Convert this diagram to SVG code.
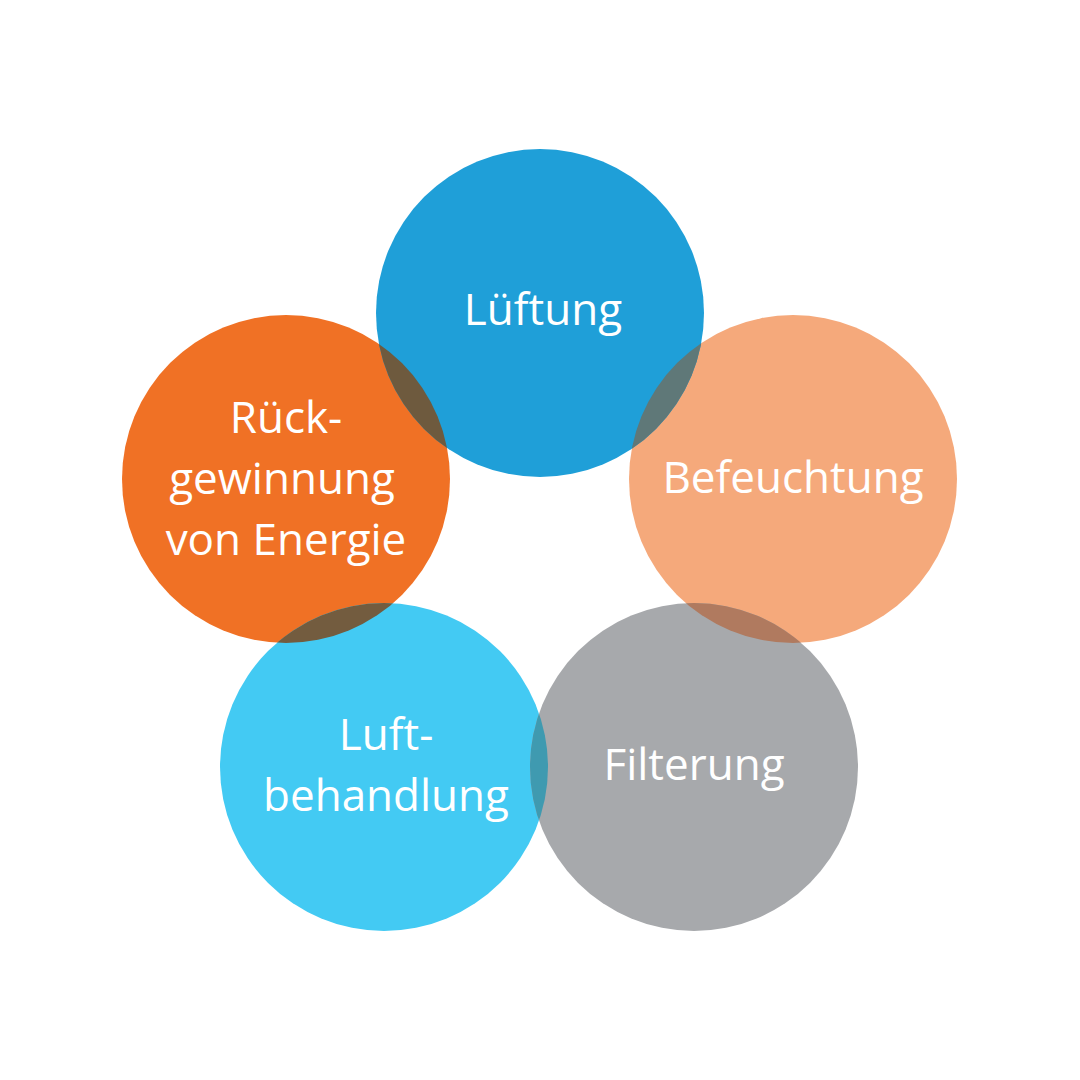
<svg xmlns="http://www.w3.org/2000/svg" width="1080" height="1080" viewBox="0 0 1080 1080">
<style>
text{font-family:"Open Sans","Liberation Sans",sans-serif;font-size:44px;fill:#fff;text-anchor:middle}
</style>
<defs>
<clipPath id="cL"><circle cx="540" cy="313" r="164"/></clipPath>
<clipPath id="cR"><circle cx="286" cy="479" r="164"/></clipPath>
<clipPath id="cB"><circle cx="793" cy="479" r="164"/></clipPath>
<clipPath id="cA"><circle cx="384" cy="767" r="164"/></clipPath>
</defs>
<rect width="1080" height="1080" fill="#fff"/>
<g id="rueck"><circle cx="286" cy="479" r="164" fill="#f07125"/></g>
<g id="befeuchtung"><circle cx="793" cy="479" r="164" fill="#f5a97b"/></g>
<g id="lueftung"><circle cx="540" cy="313" r="164" fill="#1f9fd8"/></g>
<g id="luft"><circle cx="384" cy="767" r="164" fill="#43caf3"/></g>
<g id="filterung"><circle cx="694" cy="767" r="164" fill="#a7a9ac"/></g>
<g id="overlaps">
<circle cx="286" cy="479" r="164" fill="#6e5a3e" clip-path="url(#cL)"/>
<circle cx="793" cy="479" r="164" fill="#5f7878" clip-path="url(#cL)"/>
<circle cx="384" cy="767" r="164" fill="#735c3f" clip-path="url(#cR)"/>
<circle cx="694" cy="767" r="164" fill="#b07a5f" clip-path="url(#cB)"/>
<circle cx="694" cy="767" r="164" fill="#3f9ab0" clip-path="url(#cA)"/>
</g>
<g id="labels">
<text x="543" y="325">Lüftung</text>
<text x="286" y="433">Rück-</text>
<text x="282" y="494">gewinnung</text>
<text x="286" y="555">von Energie</text>
<text x="793" y="493">Befeuchtung</text>
<text x="386" y="750">Luft-</text>
<text x="386" y="811">behandlung</text>
<text x="694" y="780">Filterung</text>
</g>
</svg>
